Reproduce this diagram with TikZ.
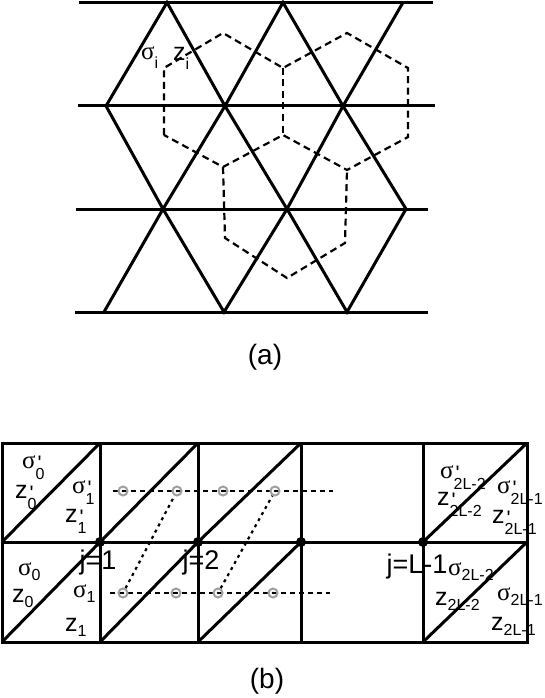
\documentclass[tikz,border=0pt]{standalone}
\usepackage{fontspec}
\setmainfont{Liberation Sans}
\newfontfamily\greekfont{Liberation Serif}
\usetikzlibrary{positioning,calc}

\newcommand{\labfont}{\fontsize{25}{28}\selectfont}
\newcommand{\subfont}{\fontsize{16}{18}\selectfont}
\newcommand{\jfont}{\fontsize{27}{30}\selectfont}
\newcommand{\capfont}{\fontsize{28}{32}\selectfont}
\newcommand{\sig}{{\greekfont σ}}
% site label without and with prime
\newcommand{\lab}[3][5.5pt]{#2\raisebox{-#1}{\subfont #3}}
\newcommand{\labp}[2]{#1\rlap{\hspace{2pt}\raisebox{-2pt}{\fontsize{21}{21}\selectfont\textquotesingle}}\raisebox{-11.5pt}{\subfont #2}}

\begin{document}
\begin{tikzpicture}[
		x=1pt, y=-1pt,
		lattice/.style = {line width=3pt},
		dual/.style = {line width=2.2pt, dash pattern=on 7pt off 4.5pt},
		chain/.style = {line width=2.2pt, dash pattern=on 5pt off 4pt},
		rung/.style = {line width=2.2pt, dash pattern=on 3pt off 4pt},
		site/.style = {circle, draw=gray!75, line width=2pt, inner sep=0pt, minimum size=9pt,
			path picture={\fill (path picture bounding box.center) circle (1.3pt);}},
		bond/.style = {circle, fill=black, inner sep=0pt, minimum size=10pt},
		lab/.style = {inner sep=0pt, anchor=base west, font=\labfont},
		jlab/.style = {inner sep=0pt, anchor=base, font=\jfont},
		caption/.style = {inner sep=0pt, anchor=base, font=\capfont}
		]
		\useasboundingbox (0,0) rectangle (545,698);
		
		% (a) triangular lattice
		\coordinate (t1) at (167,2.5); \coordinate (t2) at (283,2.5); \coordinate (t3) at (403,2.5);
		\coordinate (m1) at (106,106); \coordinate (m2) at (225,106); \coordinate (m3) at (343,106);
		\coordinate (n1) at (163,209); \coordinate (n2) at (287,209); \coordinate (n3) at (406,209);
		\coordinate (b1) at (104,312); \coordinate (b2) at (224,312); \coordinate (b3) at (347,312);
		
		\draw [lattice] (79,2.5) -- (433,2.5);
		\draw [lattice] (78,106) -- (435,106);
		\draw [lattice] (76,209) -- (428,209);
		\draw [lattice] (75,312) -- (428,312);
		\draw [lattice] (m1) -- (t1) -- (m2) -- (t2) -- (m3) -- (t3);
		\draw [lattice] (m1) -- (n1) -- (m2) -- (n2) -- (m3) -- (n3);
		\draw [lattice] (b1) -- (n1) -- (b2) -- (n2) -- (b3) -- (n3);
		
		% dual honeycomb
		\draw [dual] (164,135) -- (164,68) -- (223,33) -- (283,68) -- (347,33) -- (408,68)
			-- (408,137) -- (347,170) -- (283,135) -- (223,167) -- cycle;
		\draw [dual] (283,68) -- (283,135);
		\draw [dual] (223,167) -- (225,238) -- (287,278) -- (345,243) -- (347,170);
		
		\node [lab] (sigi) at (141,60) {\lab[9pt]{\sig}{i}};
		\node [lab] (zi) at (173,61) {\lab[9pt]{z}{i}};
		\node [caption] (capa) at (265,364) {(a)};
		
		% (b) strip
		\draw [lattice] (2,443) rectangle (527,642);
		\draw [lattice] (2,542) -- (527,542);
		\foreach \x in {100,198,301,423}
			\draw [lattice] (\x,443) -- (\x,642);
		\foreach \x/\xx in {2/100,100/198,198/301,423/527} {
			\draw [lattice] (\x,542) -- (\xx,443);
			\draw [lattice] (\x,642) -- (\xx,542);
		}
		
		\coordinate (ua) at (113,491); \coordinate (ub) at (333,491);
		\coordinate (la) at (110,593); \coordinate (lb) at (330,593);
		\draw [chain] (ua) -- (ub);
		\draw [chain] (la) -- (lb);
		\foreach \x [count=\i] in {123,177,223,275}
			\node [site] (u\i) at (\x,491) {};
		\foreach \x [count=\i] in {123,176,218,273}
			\node [site] (l\i) at (\x,593) {};
		\draw [rung] (l1) -- (u2);
		\draw [rung] (l3) -- (u4);
		
		\foreach \x [count=\i] in {100,198,301,423}
			\node [bond] (j\i) at (\x,542) {};
		
		\node [jlab] (j1lab) at (98,569) {j=1};
		\node [jlab] (j2lab) at (201,569) {j=2};
		\node [jlab] (jLlab) at (417,573) {j=L-1};
		
		\node [lab] at (22,468) {\labp{\sig}{0}};
		\node [lab] at (15,498) {\labp{z}{0}};
		\node [lab] at (72,493) {\labp{\sig}{1}};
		\node [lab] at (65,522) {\labp{z}{1}};
		\node [lab] at (18,575) {\lab{\sig}{0}};
		\node [lab] at (12,602) {\lab{z}{0}};
		\node [lab] at (73,597) {\lab{\sig}{1}};
		\node [lab] at (65,631) {\lab{z}{1}};
		
		\node [lab] at (440,478) {\labp{\sig}{2L-2}};
		\node [lab] at (437,505) {\labp{z}{2L-2}};
		\node [lab] at (497,493) {\labp{\sig}{2L-1}};
		\node [lab] at (492,523) {\labp{z}{2L-1}};
		\node [lab] at (448,575) {\lab{\sig}{2L-2}};
		\node [lab] at (435,605) {\lab{z}{2L-2}};
		\node [lab] at (497,600) {\lab{\sig}{2L-1}};
		\node [lab] at (491,630) {\lab{z}{2L-1}};
		
		\node [caption] (capb) at (267,688) {(b)};
		
	\end{tikzpicture}
\end{document}
